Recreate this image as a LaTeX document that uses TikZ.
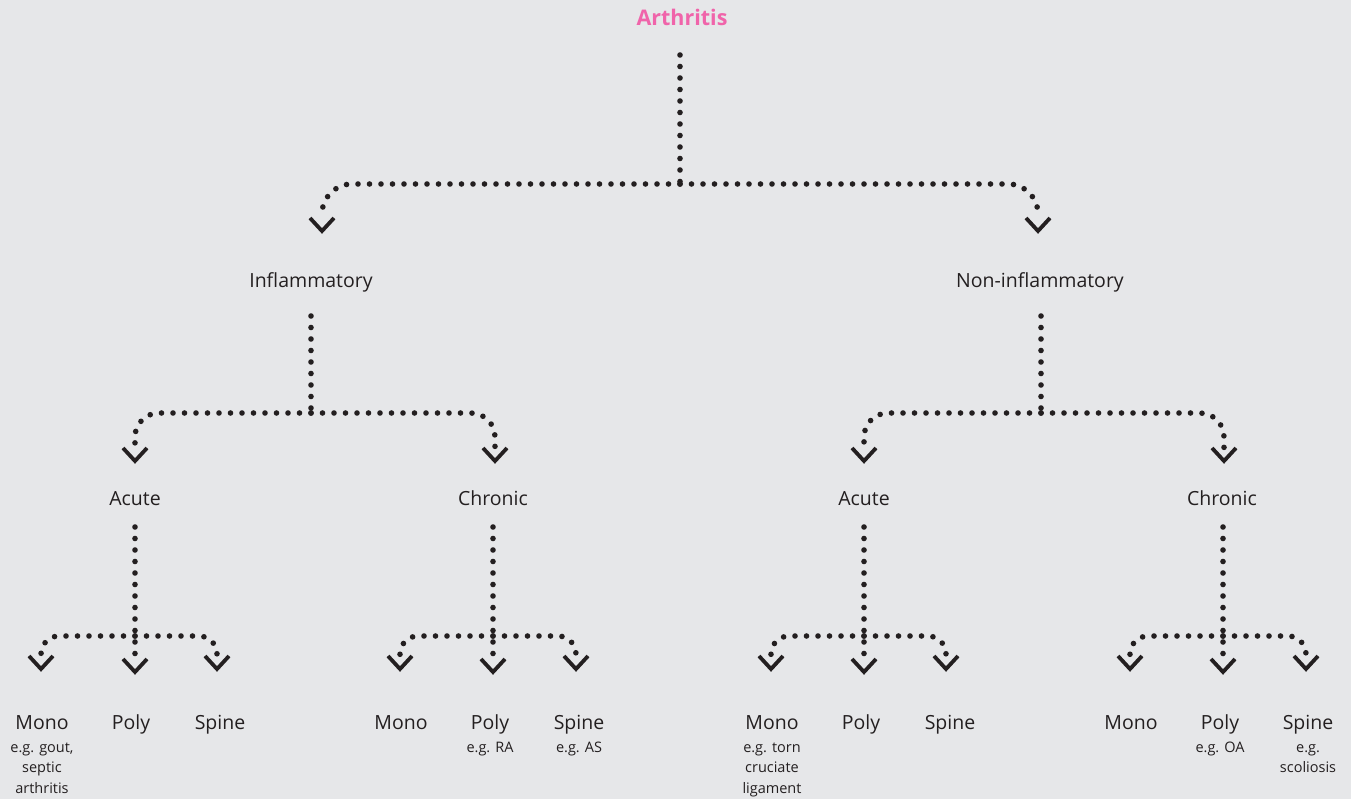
\documentclass[tikz,border=0pt]{standalone}
\usepackage{fontspec}
\setmainfont{Open Sans}
\definecolor{bg}{HTML}{E6E7E9}
\definecolor{ink}{HTML}{231F20}
\definecolor{pinkc}{HTML}{F064AA}
\begin{document}
\begin{tikzpicture}[x=1pt,y=-1pt,
  dots/.style={draw=ink, line width=5.6pt, line cap=round, dash pattern=on 0pt off 11.5pt},
  chev/.style={draw=ink, line width=3.8pt, line cap=butt, line join=miter},
  chevpic/.pic={\draw[chev] (-12pt,13pt) -- (0pt,0pt) -- (12pt,13pt);},
  lbl/.style={font=\fontsize{19.5}{22}\selectfont, text=ink, inner sep=0pt, anchor=base},
  sub/.style={font=\fontsize{14.5}{20.3}\selectfont, text=ink, align=center, inner sep=0pt, anchor=base},
  ttl/.style={font=\fontsize{21.5}{24}\selectfont\bfseries, text=pinkc, inner sep=0pt, anchor=base},
]
\fill[bg] (0,0) rectangle (1351,799);
\useasboundingbox (0,0) rectangle (1351,799);

% ---------- text nodes ----------
\node[ttl] (root) at (682,26) {Arthritis};
\node[lbl] (inf) at (311,288) {Inflammatory};
\node[lbl] (non) at (1040,288) {Non-inflammatory};
\node[lbl] (acA) at (135,505) {Acute};
\node[lbl] (chA) at (493,505) {Chronic};
\node[lbl] (acB) at (864,505) {Acute};
\node[lbl] (chB) at (1222,505) {Chronic};

% sub-labels: base anchor is the baseline of the last line
\node[lbl] (m1) at (42,729) {Mono};
\node[lbl] (p1) at (131,729) {Poly};
\node[lbl] (s1) at (220,729) {Spine};
\node[sub] (m1s) at (42,793) {e.g. gout,\\septic\\arthritis};

\node[lbl] (m2) at (401,729) {Mono};
\node[lbl] (p2) at (490,729) {Poly};
\node[lbl] (s2) at (579,729) {Spine};
\node[sub] (p2s) at (490,752.5) {e.g. RA};
\node[sub] (s2s) at (579,752.5) {e.g. AS};

\node[lbl] (m3) at (772,729) {Mono};
\node[lbl] (p3) at (861,729) {Poly};
\node[lbl] (s3) at (950,729) {Spine};
\node[sub] (m3s) at (772,793) {e.g. torn\\cruciate\\ligament};

\node[lbl] (m4) at (1131,729) {Mono};
\node[lbl] (p4) at (1220,729) {Poly};
\node[lbl] (s4) at (1308,729) {Spine};
\node[sub] (p4s) at (1220,752.5) {e.g. OA};
\node[sub] (s4s) at (1308,772.8) {e.g.\\scoliosis};

% ---------- level 0 ----------
\coordinate (t0) at (680,55);
\coordinate (j0) at (680,184);
\coordinate (e0a) at (322,218);
\coordinate (e0b) at (1038,218);
\coordinate (h0a) at (322,231);
\coordinate (h0b) at (1038,231);
\draw[dots] (t0) -- (j0);
\draw[dots, rounded corners=30pt] (j0) -| (e0a);
\draw[dots, rounded corners=30pt] (j0) -| (e0b);
\pic at (h0a) {chevpic};
\pic at (h0b) {chevpic};

% ---------- level 1 ----------
\foreach \tx/\lx/\rx/\nm in {311/135/495/L, 1041/864/1224/R}{
  \coordinate (t1\nm) at (\tx,316);
  \coordinate (j1\nm) at (\tx,413);
  \coordinate (e1\nm a) at (\lx,448);
  \coordinate (e1\nm b) at (\rx,448);
  \coordinate (h1\nm a) at (\lx,461);
  \coordinate (h1\nm b) at (\rx,461);
  \draw[dots] (t1\nm) -- (j1\nm);
  \draw[dots, rounded corners=24pt] (j1\nm) -| (e1\nm a);
  \draw[dots, rounded corners=24pt] (j1\nm) -| (e1\nm b);
  \pic at (h1\nm a) {chevpic};
  \pic at (h1\nm b) {chevpic};
}

% ---------- level 2 ----------
\foreach \tx/\lx/\rx/\nm in {135/41/217/A, 493/400/576/B, 864/771/946/C, 1223/1130/1306/D}{
  \coordinate (t2\nm) at (\tx,527);
  \coordinate (j2\nm) at (\tx,636);
  \coordinate (e2\nm m) at (\tx,660);
  \coordinate (e2\nm a) at (\lx,655);
  \coordinate (e2\nm b) at (\rx,655);
  \coordinate (h2\nm m) at (\tx,672);
  \coordinate (h2\nm a) at (\lx,669);
  \coordinate (h2\nm b) at (\rx,669);
  \draw[dots] (t2\nm) -- (e2\nm m);
  \draw[dots, rounded corners=18pt] (j2\nm) -| (e2\nm a);
  \draw[dots, rounded corners=18pt] (j2\nm) -| (e2\nm b);
  \pic at (h2\nm m) {chevpic};
  \pic at (h2\nm a) {chevpic};
  \pic at (h2\nm b) {chevpic};
}
\end{tikzpicture}
\end{document}
